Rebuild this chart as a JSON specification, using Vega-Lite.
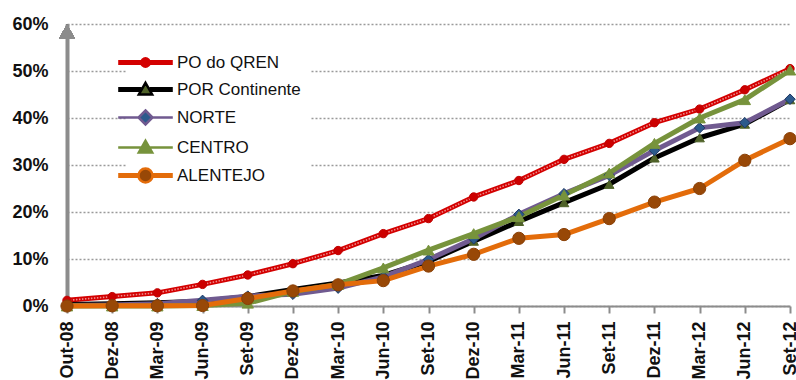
{
  "$schema": "https://vega.github.io/schema/vega-lite/v6.json",
  "width": 723,
  "height": 282,
  "autosize": {"type": "none"},
  "padding": {"left": 67, "top": 24, "right": 6, "bottom": 74},
  "background": "white",
  "config": {"view": {"stroke": null}, "font": "Liberation Sans"},
  "datasets": {
    "execucao": [
      {"data": "Out-08", "serie": "PO do QREN", "valor": 0.012},
      {"data": "Dez-08", "serie": "PO do QREN", "valor": 0.020},
      {"data": "Mar-09", "serie": "PO do QREN", "valor": 0.028},
      {"data": "Jun-09", "serie": "PO do QREN", "valor": 0.046},
      {"data": "Set-09", "serie": "PO do QREN", "valor": 0.066},
      {"data": "Dez-09", "serie": "PO do QREN", "valor": 0.090},
      {"data": "Mar-10", "serie": "PO do QREN", "valor": 0.118},
      {"data": "Jun-10", "serie": "PO do QREN", "valor": 0.154},
      {"data": "Set-10", "serie": "PO do QREN", "valor": 0.186},
      {"data": "Dez-10", "serie": "PO do QREN", "valor": 0.232},
      {"data": "Mar-11", "serie": "PO do QREN", "valor": 0.267},
      {"data": "Jun-11", "serie": "PO do QREN", "valor": 0.312},
      {"data": "Set-11", "serie": "PO do QREN", "valor": 0.346},
      {"data": "Dez-11", "serie": "PO do QREN", "valor": 0.390},
      {"data": "Mar-12", "serie": "PO do QREN", "valor": 0.419},
      {"data": "Jun-12", "serie": "PO do QREN", "valor": 0.460},
      {"data": "Set-12", "serie": "PO do QREN", "valor": 0.505},

      {"data": "Out-08", "serie": "POR Continente", "valor": 0.003},
      {"data": "Dez-08", "serie": "POR Continente", "valor": 0.005},
      {"data": "Mar-09", "serie": "POR Continente", "valor": 0.007},
      {"data": "Jun-09", "serie": "POR Continente", "valor": 0.010},
      {"data": "Set-09", "serie": "POR Continente", "valor": 0.020},
      {"data": "Dez-09", "serie": "POR Continente", "valor": 0.035},
      {"data": "Mar-10", "serie": "POR Continente", "valor": 0.049},
      {"data": "Jun-10", "serie": "POR Continente", "valor": 0.065},
      {"data": "Set-10", "serie": "POR Continente", "valor": 0.095},
      {"data": "Dez-10", "serie": "POR Continente", "valor": 0.138},
      {"data": "Mar-11", "serie": "POR Continente", "valor": 0.180},
      {"data": "Jun-11", "serie": "POR Continente", "valor": 0.220},
      {"data": "Set-11", "serie": "POR Continente", "valor": 0.259},
      {"data": "Dez-11", "serie": "POR Continente", "valor": 0.315},
      {"data": "Mar-12", "serie": "POR Continente", "valor": 0.358},
      {"data": "Jun-12", "serie": "POR Continente", "valor": 0.387},
      {"data": "Set-12", "serie": "POR Continente", "valor": 0.439},

      {"data": "Out-08", "serie": "NORTE", "valor": 0.001},
      {"data": "Dez-08", "serie": "NORTE", "valor": 0.002},
      {"data": "Mar-09", "serie": "NORTE", "valor": 0.005},
      {"data": "Jun-09", "serie": "NORTE", "valor": 0.012},
      {"data": "Set-09", "serie": "NORTE", "valor": 0.021},
      {"data": "Dez-09", "serie": "NORTE", "valor": 0.025},
      {"data": "Mar-10", "serie": "NORTE", "valor": 0.038},
      {"data": "Jun-10", "serie": "NORTE", "valor": 0.062},
      {"data": "Set-10", "serie": "NORTE", "valor": 0.099},
      {"data": "Dez-10", "serie": "NORTE", "valor": 0.143},
      {"data": "Mar-11", "serie": "NORTE", "valor": 0.195},
      {"data": "Jun-11", "serie": "NORTE", "valor": 0.239},
      {"data": "Set-11", "serie": "NORTE", "valor": 0.278},
      {"data": "Dez-11", "serie": "NORTE", "valor": 0.331},
      {"data": "Mar-12", "serie": "NORTE", "valor": 0.379},
      {"data": "Jun-12", "serie": "NORTE", "valor": 0.390},
      {"data": "Set-12", "serie": "NORTE", "valor": 0.440},

      {"data": "Out-08", "serie": "CENTRO", "valor": 0.000},
      {"data": "Dez-08", "serie": "CENTRO", "valor": 0.000},
      {"data": "Mar-09", "serie": "CENTRO", "valor": 0.000},
      {"data": "Jun-09", "serie": "CENTRO", "valor": 0.001},
      {"data": "Set-09", "serie": "CENTRO", "valor": 0.006},
      {"data": "Dez-09", "serie": "CENTRO", "valor": 0.031},
      {"data": "Mar-10", "serie": "CENTRO", "valor": 0.046},
      {"data": "Jun-10", "serie": "CENTRO", "valor": 0.081},
      {"data": "Set-10", "serie": "CENTRO", "valor": 0.119},
      {"data": "Dez-10", "serie": "CENTRO", "valor": 0.154},
      {"data": "Mar-11", "serie": "CENTRO", "valor": 0.190},
      {"data": "Jun-11", "serie": "CENTRO", "valor": 0.236},
      {"data": "Set-11", "serie": "CENTRO", "valor": 0.283},
      {"data": "Dez-11", "serie": "CENTRO", "valor": 0.346},
      {"data": "Mar-12", "serie": "CENTRO", "valor": 0.400},
      {"data": "Jun-12", "serie": "CENTRO", "valor": 0.439},
      {"data": "Set-12", "serie": "CENTRO", "valor": 0.502},

      {"data": "Out-08", "serie": "ALENTEJO", "valor": 0.000},
      {"data": "Dez-08", "serie": "ALENTEJO", "valor": 0.0005},
      {"data": "Mar-09", "serie": "ALENTEJO", "valor": 0.0005},
      {"data": "Jun-09", "serie": "ALENTEJO", "valor": 0.001},
      {"data": "Set-09", "serie": "ALENTEJO", "valor": 0.016},
      {"data": "Dez-09", "serie": "ALENTEJO", "valor": 0.032},
      {"data": "Mar-10", "serie": "ALENTEJO", "valor": 0.045},
      {"data": "Jun-10", "serie": "ALENTEJO", "valor": 0.054},
      {"data": "Set-10", "serie": "ALENTEJO", "valor": 0.085},
      {"data": "Dez-10", "serie": "ALENTEJO", "valor": 0.110},
      {"data": "Mar-11", "serie": "ALENTEJO", "valor": 0.144},
      {"data": "Jun-11", "serie": "ALENTEJO", "valor": 0.152},
      {"data": "Set-11", "serie": "ALENTEJO", "valor": 0.186},
      {"data": "Dez-11", "serie": "ALENTEJO", "valor": 0.221},
      {"data": "Mar-12", "serie": "ALENTEJO", "valor": 0.250},
      {"data": "Jun-12", "serie": "ALENTEJO", "valor": 0.310},
      {"data": "Set-12", "serie": "ALENTEJO", "valor": 0.356}
    ]
  },
  "data": {"name": "execucao"},
  "layer": [
    {
      "mark": {"type": "line", "strokeJoin": "round", "strokeCap": "round"},
      "encoding": {
        "x": {
          "field": "data",
          "type": "ordinal",
          "sort": null,
          "scale": {"type": "point", "padding": 0},
          "axis": {
            "title": null,
            "labelAngle": 270,
            "labelFont": "Liberation Sans",
            "labelFontSize": 18,
            "labelFontWeight": "bold",
            "labelColor": "#111111",
            "labelPadding": 8,
            "labelOverlap": false,
            "labelBound": false,
            "domainColor": "#8c8c8c",
            "domainWidth": 2,
            "tickColor": "#8c8c8c",
            "tickWidth": 2,
            "tickSize": 7,
            "grid": false
          }
        },
        "y": {
          "field": "valor",
          "type": "quantitative",
          "scale": {"domain": [0, 0.6], "nice": false},
          "axis": {
            "title": null,
            "values": [0, 0.1, 0.2, 0.3, 0.4, 0.5, 0.6],
            "format": ".0%",
            "labelFont": "Liberation Sans",
            "labelFontSize": 18,
            "labelFontWeight": "bold",
            "labelColor": "#111111",
            "labelPadding": 19,
            "labelFlush": false,
            "ticks": false,
            "domainColor": "#8c8c8c",
            "domainWidth": 4,
            "grid": true,
            "gridColor": "#9a9a9a",
            "gridWidth": 1.5,
            "gridDash": [2, 2]
          }
        },
        "color": {
          "field": "serie",
          "type": "nominal",
          "sort": ["PO do QREN", "POR Continente", "NORTE", "CENTRO", "ALENTEJO"],
          "scale": {
            "range": ["#d40000", "#000000", "#705a90", "#77933c", "#e36c0a"]
          },
          "legend": {
            "title": null,
            "orient": "none",
            "legendX": 60,
            "legendY": 20,
            "padding": 10,
            "fillColor": "white",
            "symbolType": "M-3.9,0H3.9",
            "symbolSize": 196,
            "labelFont": "Liberation Sans",
            "labelFontSize": 17,
            "labelColor": "#111111",
            "labelOffset": 23,
            "rowPadding": 5,
            "encode": {
              "symbols": {
                "update": {
                  "size": {"value": 196},
                  "shape": {"signal": "datum.value === 'PO do QREN' ? 'M-3.9,-0.18H3.9M-3.9,0H3.9M-3.9,0.18H3.9M0.6,0A0.6,0.6,0,1,1,-0.6,0A0.6,0.6,0,1,1,0.6,0Z' : datum.value === 'POR Continente' ? 'M-3.9,-0.18H-0.6M-3.9,0H-0.6M-3.9,0.18H-0.6M0.6,-0.18H3.9M0.6,0H3.9M0.6,0.18H3.9M0,-0.95L0.95,0.7L-0.95,0.7Z' : datum.value === 'NORTE' ? 'M-3.9,0H-1M1,0H3.9M0,-1L1,0L0,1L-1,0Z' : datum.value === 'CENTRO' ? 'M-3.9,0H-0.55M0.55,0H3.9M0,-0.95L0.95,0.7L-0.95,0.7Z' : 'M-3.9,-0.18H-0.95M-3.9,0H-0.95M-3.9,0.18H-0.95M0.95,-0.18H3.9M0.95,0H3.9M0.95,0.18H3.9M1,0A1,1,0,1,1,-1,0A1,1,0,1,1,1,0Z'"},
                  "fill": {"signal": "datum.value === 'PO do QREN' ? '#cc0000' : datum.value === 'POR Continente' ? '#4f6228' : datum.value === 'NORTE' ? '#2c5a8c' : datum.value === 'CENTRO' ? '#77933c' : '#984807'"},
                  "stroke": {"signal": "datum.value === 'PO do QREN' ? '#d40000' : datum.value === 'POR Continente' ? '#000000' : datum.value === 'NORTE' ? '#705a90' : datum.value === 'CENTRO' ? '#77933c' : '#e36c0a'"},
                  "strokeWidth": {"value": 2.5},
                  "opacity": {"value": 1},
                  "fillOpacity": {"value": 1},
                  "strokeOpacity": {"value": 1}
                }
              }
            }
          }
        },
        "strokeWidth": {
          "field": "serie",
          "type": "nominal",
          "scale": {
            "domain": ["PO do QREN", "POR Continente", "NORTE", "CENTRO", "ALENTEJO"],
            "range": [5, 5, 3, 3, 5]
          },
          "legend": null
        }
      }
    },
    {
      "transform": [{"filter": "datum.serie === 'PO do QREN'"}],
      "mark": {"type": "line", "color": "white", "strokeWidth": 1.6, "strokeDash": [1.5, 1.5], "opacity": 0.55},
      "encoding": {
        "x": {"field": "data", "type": "ordinal", "sort": null},
        "y": {"field": "valor", "type": "quantitative"}
      }
    },
    {
      "mark": {"type": "point", "filled": true, "opacity": 1, "strokeWidth": 1},
      "encoding": {
        "x": {"field": "data", "type": "ordinal", "sort": null},
        "y": {"field": "valor", "type": "quantitative"},
        "fill": {
          "field": "serie",
          "type": "nominal",
          "scale": {
            "domain": ["PO do QREN", "POR Continente", "NORTE", "CENTRO", "ALENTEJO"],
            "range": ["#cc0000", "#4f6228", "#2c5a8c", "#77933c", "#984807"]
          },
          "legend": {
            "title": null,
            "orient": "none",
            "legendX": 60,
            "legendY": 20,
            "padding": 10,
            "fillColor": "white",
            "symbolSize": 196,
            "labelFont": "Liberation Sans",
            "labelFontSize": 17,
            "labelOpacity": 0,
            "labelOffset": 23,
            "rowPadding": 5,
            "encode": {
              "symbols": {
                "update": {
                  "size": {"signal": "datum.value === 'PO do QREN' ? 70 : (datum.value === 'NORTE' || datum.value === 'ALENTEJO') ? 200 : 150"},
                  "stroke": {"signal": "datum.value === 'NORTE' ? '#1f3864' : datum.value === 'ALENTEJO' ? '#8a4006' : datum.value === 'POR Continente' ? '#4f6228' : datum.value === 'CENTRO' ? '#77933c' : '#c00000'"},
                  "strokeWidth": {"value": 1}
                }
              }
            }
          }
        },
        "shape": {
          "field": "serie",
          "type": "nominal",
          "scale": {
            "domain": ["PO do QREN", "POR Continente", "NORTE", "CENTRO", "ALENTEJO"],
            "range": ["circle", "triangle-up", "diamond", "triangle-up", "circle"]
          },
          "legend": {
            "title": null,
            "orient": "none",
            "legendX": 60,
            "legendY": 20,
            "padding": 10,
            "fillColor": "white",
            "symbolSize": 196,
            "labelFont": "Liberation Sans",
            "labelFontSize": 17,
            "labelOpacity": 0,
            "labelOffset": 23,
            "rowPadding": 5,
            "encode": {
              "symbols": {
                "update": {
                  "size": {"signal": "datum.value === 'PO do QREN' ? 70 : (datum.value === 'NORTE' || datum.value === 'ALENTEJO') ? 200 : 150"},
                  "stroke": {"signal": "datum.value === 'NORTE' ? '#1f3864' : datum.value === 'ALENTEJO' ? '#8a4006' : datum.value === 'POR Continente' ? '#4f6228' : datum.value === 'CENTRO' ? '#77933c' : '#c00000'"},
                  "strokeWidth": {"value": 1}
                }
              }
            }
          }
        },
        "size": {
          "field": "serie",
          "type": "nominal",
          "scale": {
            "domain": ["PO do QREN", "POR Continente", "NORTE", "CENTRO", "ALENTEJO"],
            "range": [70, 150, 200, 150, 200]
          },
          "legend": null
        },
        "stroke": {
          "field": "serie",
          "type": "nominal",
          "scale": {
            "domain": ["PO do QREN", "POR Continente", "NORTE", "CENTRO", "ALENTEJO"],
            "range": ["#c00000", "#4f6228", "#1f3864", "#77933c", "#8a4006"]
          },
          "legend": null
        }
      }
    },
    {
      "mark": {"type": "point", "shape": "triangle-up", "filled": true, "color": "#8c8c8c", "size": 240, "opacity": 1},
      "encoding": {
        "x": {"datum": "Out-08", "type": "ordinal"},
        "y": {"datum": 0.584, "type": "quantitative"}
      }
    }
  ]
}
